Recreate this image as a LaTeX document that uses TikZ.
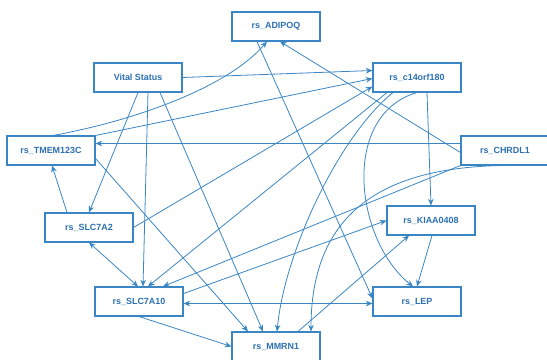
\documentclass[tikz,border=0pt]{standalone}
\usepackage{fontspec}
\setmainfont{Liberation Sans}
\usetikzlibrary{arrows.meta,calc}
\definecolor{lc}{RGB}{58,134,196}
\definecolor{tc}{RGB}{44,112,178}
\begin{document}
\begin{tikzpicture}[x=0.75pt,y=-0.75pt,
  box/.style={draw=lc,line width=0.8pt,fill=white,minimum width=66pt,minimum height=21.75pt,inner sep=0pt,font=\bfseries\fontsize{6.7}{8}\selectfont,text=tc},
  edge/.style={draw=lc,line width=0.6pt,-{Stealth[length=5pt,width=4.2pt]}},
  bi/.style={draw=lc,line width=0.6pt,{Stealth[length=5pt,width=4.2pt]}-{Stealth[length=5pt,width=4.2pt]}}]
\useasboundingbox (0,0) rectangle (547,360);
% nodes
\node[box] (adipoq) at (276,26.5) {rs\_ADIPOQ};
\node[box] (vs) at (138,77.5) {Vital Status};
\node[box] (c14) at (417,77.5) {rs\_c14orf180};
\node[box] (tmem) at (51,150.5) {rs\_TMEM123C};
\node[box] (chrdl) at (505,150.5) {rs\_CHRDL1};
\node[box] (slc2) at (89,227.5) {rs\_SLC7A2};
\node[box] (kiaa) at (431,220.5) {rs\_KIAA0408};
\node[box] (slc10) at (139,301.5) {rs\_SLC7A10};
\node[box] (lep) at (417,301.5) {rs\_LEP};
\node[box] (mmrn) at (276,346.5) {rs\_MMRN1};
% edges
\draw[edge] (vs.east) -- ($(c14.west)+(0,-7)$);
\draw[edge] (vs.south) -- (slc2.north);
\draw[edge] ($(vs.south)+(10,0)$) -- ($(slc10.north)+(4,0)$);
\draw[edge] ($(vs.south)+(22,0)$) -- ($(mmrn.north)+(-13,0)$);
\draw[edge] ($(tmem.north)+(2,0)$) .. controls (133,121) and (227,88) .. ($(adipoq.south)+(-9,0)$);
\draw[edge] (tmem.north east) -- ($(c14.west)+(0,1)$);
\draw[edge] ($(tmem.east)+(0,8)$) -- ($(mmrn.north)+(-28,0)$);
\draw[edge] ($(chrdl.west)+(0,-7)$) -- ($(tmem.east)+(0,-7)$);
\draw[edge] ($(chrdl.west)+(0,2)$) -- ($(adipoq.south)+(4,0)$);
\draw[edge] (chrdl.south west) -- ($(slc10.north)+(24,0)$);
\draw[edge] ($(chrdl.south)+(-5,0)$) .. controls (400,168) and (311,200) .. ($(mmrn.north)+(35,0)$);
\draw[edge] ($(adipoq.south)+(-19,0)$) -- ($(lep.west)+(0,-3)$);
\draw[edge] ($(slc2.north)+(-22,0)$) -- ($(tmem.south)+(1,0)$);
\draw[edge] (slc2.east) -- ($(c14.west)+(0,9)$);
\draw[bi] (slc2.south) -- ($(slc10.north)+(-1,0)$);
\draw[edge] ($(c14.south)+(-30,0)$) -- ($(slc10.north)+(9,0)$);
\draw[edge] ($(c14.south)+(-24,0)$) .. controls (340,135) and (285,250) .. ($(mmrn.north)+(1,0)$);
\draw[edge] (c14.south) .. controls (340,115) and (355,240) .. ($(lep.north)+(-4,0)$);
\draw[edge] ($(c14.south)+(10,0)$) -- (kiaa.north);
\draw[edge] ($(slc10.east)+(0,-8)$) -- (kiaa.west);
\draw[bi] ($(slc10.east)+(0,2)$) -- ($(lep.west)+(0,2)$);
\draw[edge] (slc10.south) -- (mmrn.west);
\draw[edge] ($(mmrn.north)+(22,0)$) -- ($(kiaa.south)+(-22,0)$);
\draw[edge] ($(kiaa.south)+(1,0)$) -- (lep.north);
\end{tikzpicture}
\end{document}
